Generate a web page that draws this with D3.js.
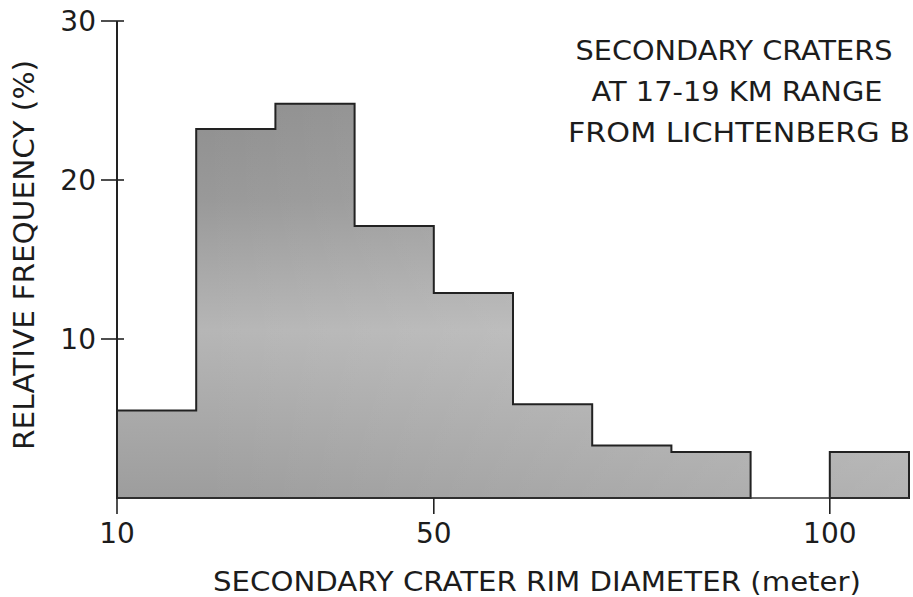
<!DOCTYPE html>
<html>
<head>
<meta charset="utf-8">
<script src="https://cdn.jsdelivr.net/npm/d3@7"></script>
<style>
  body { margin: 0; background: #fff; }
  text { font-family: "DejaVu Sans", sans-serif; fill: #1c1c1c; }
</style>
</head>
<body>
<div id="chart"></div>
<script>
// histogram bins (meter), width 10
const binStarts = [10, 20, 30, 40, 50, 60, 70, 80, 90, 100];
const binWidth = 10;
const freq = [5.5, 23.2, 24.8, 17.1, 12.9, 5.9, 3.3, 2.9, 0, 2.9];
const xTicks = [10, 50, 100];
const yTicks = [10, 20, 30];
const titleLines = ["SECONDARY CRATERS", "AT 17-19 KM RANGE", "FROM LICHTENBERG B"];

const w = 913, h = 597;

const x = d3.scaleLinear().domain([10, 110]).range([117, 909]);
const y = d3.scaleLinear().domain([0, 30]).range([498, 21]);

const svg = d3.select("#chart").append("svg")
  .attr("width", w)
  .attr("height", h);

const defs = svg.append("defs");
const grad = defs.append("linearGradient")
  .attr("id", "shade")
  .attr("gradientUnits", "userSpaceOnUse")
  .attr("x1", 0).attr("y1", 100).attr("x2", 0).attr("y2", 498);
grad.append("stop").attr("offset", "0%").attr("stop-color", "#8f8f8f");
grad.append("stop").attr("offset", "25%").attr("stop-color", "#999");
grad.append("stop").attr("offset", "58%").attr("stop-color", "#b6b6b6");
grad.append("stop").attr("offset", "100%").attr("stop-color", "#9d9d9d");

const hgrad = defs.append("linearGradient")
  .attr("id", "lighten")
  .attr("gradientUnits", "userSpaceOnUse")
  .attr("x1", 200).attr("y1", 0).attr("x2", 909).attr("y2", 0);
hgrad.append("stop").attr("offset", "0%").attr("stop-color", "#fff").attr("stop-opacity", 0);
hgrad.append("stop").attr("offset", "100%").attr("stop-color", "#fff").attr("stop-opacity", 0.22);

// group bins into runs of non-empty bars so the outline is one step shape per run
const runs = [];
let cur = null;
binStarts.forEach((b, i) => {
  if (freq[i] > 0) {
    if (!cur) { cur = []; runs.push(cur); }
    cur.push({ x0: b, x1: b + binWidth, v: freq[i] });
  } else {
    cur = null;
  }
});

const line = d3.line().x(d => x(d[0])).y(d => y(d[1]));
const runPts = runs.map(r => {
  const pts = [[r[0].x0, 0]];
  r.forEach(d => { pts.push([d.x0, d.v]); pts.push([d.x1, d.v]); });
  pts.push([r[r.length - 1].x1, 0]);
  return pts;
});

svg.selectAll("path.fill")
  .data(runPts)
  .enter().append("path")
  .attr("class", "fill")
  .attr("d", d => line(d) + "Z")
  .attr("fill", "url(#shade)");

svg.selectAll("path.light")
  .data(runPts)
  .enter().append("path")
  .attr("class", "light")
  .attr("d", d => line(d) + "Z")
  .attr("fill", "url(#lighten)");

svg.selectAll("path.outline")
  .data(runPts)
  .enter().append("path")
  .attr("class", "outline")
  .attr("d", d => line(d) + "Z")
  .attr("fill", "none")
  .attr("stroke", "#222")
  .attr("stroke-width", 2)
  .attr("stroke-linejoin", "miter");

// baseline across whole range
svg.append("line")
  .attr("x1", x(10)).attr("x2", x(110))
  .attr("y1", y(0)).attr("y2", y(0))
  .attr("stroke", "#333").attr("stroke-width", 1.3);

// y axis
svg.append("line")
  .attr("x1", x(10)).attr("x2", x(10))
  .attr("y1", y(30)).attr("y2", y(0))
  .attr("stroke", "#222").attr("stroke-width", 2);

svg.selectAll("line.ytick")
  .data(yTicks)
  .enter().append("line")
  .attr("class", "ytick")
  .attr("x1", x(10) - 16).attr("x2", x(10) + 7)
  .attr("y1", d => y(d)).attr("y2", d => y(d))
  .attr("stroke", "#222").attr("stroke-width", 1.6);

svg.selectAll("text.ylab")
  .data(yTicks)
  .enter().append("text")
  .attr("class", "ylab")
  .attr("x", 96)
  .attr("y", d => y(d) + 10)
  .attr("text-anchor", "end")
  .attr("font-size", 28)
  .text(d => d);

// x ticks
svg.selectAll("line.xtick")
  .data(xTicks)
  .enter().append("line")
  .attr("class", "xtick")
  .attr("x1", d => x(d)).attr("x2", d => x(d))
  .attr("y1", y(0)).attr("y2", y(0) + 16)
  .attr("stroke", "#222").attr("stroke-width", 1.6);

svg.selectAll("text.xlab")
  .data(xTicks)
  .enter().append("text")
  .attr("class", "xlab")
  .attr("x", d => x(d))
  .attr("y", 543)
  .attr("text-anchor", "middle")
  .attr("font-size", 28)
  .text(d => d);

// axis titles
svg.append("text")
  .attr("x", 537)
  .attr("y", 591)
  .attr("text-anchor", "middle")
  .attr("font-size", 26)
  .attr("textLength", 648)
  .attr("lengthAdjust", "spacingAndGlyphs")
  .text("SECONDARY CRATER RIM DIAMETER (meter)");

svg.append("text")
  .attr("transform", "translate(34,255) rotate(-90)")
  .attr("text-anchor", "middle")
  .attr("font-size", 29)
  .attr("textLength", 390)
  .attr("lengthAdjust", "spacingAndGlyphs")
  .text("RELATIVE FREQUENCY (%)");

// annotation
const titleW = [317, 291, 342];
const titleCx = [734, 737, 739];
svg.selectAll("text.title")
  .data(titleLines)
  .enter().append("text")
  .attr("class", "title")
  .attr("x", (d, i) => titleCx[i])
  .attr("y", (d, i) => 60 + i * 41)
  .attr("text-anchor", "middle")
  .attr("font-size", 26)
  .attr("textLength", (d, i) => titleW[i])
  .attr("lengthAdjust", "spacingAndGlyphs")
  .text(d => d);
</script>
</body>
</html>
